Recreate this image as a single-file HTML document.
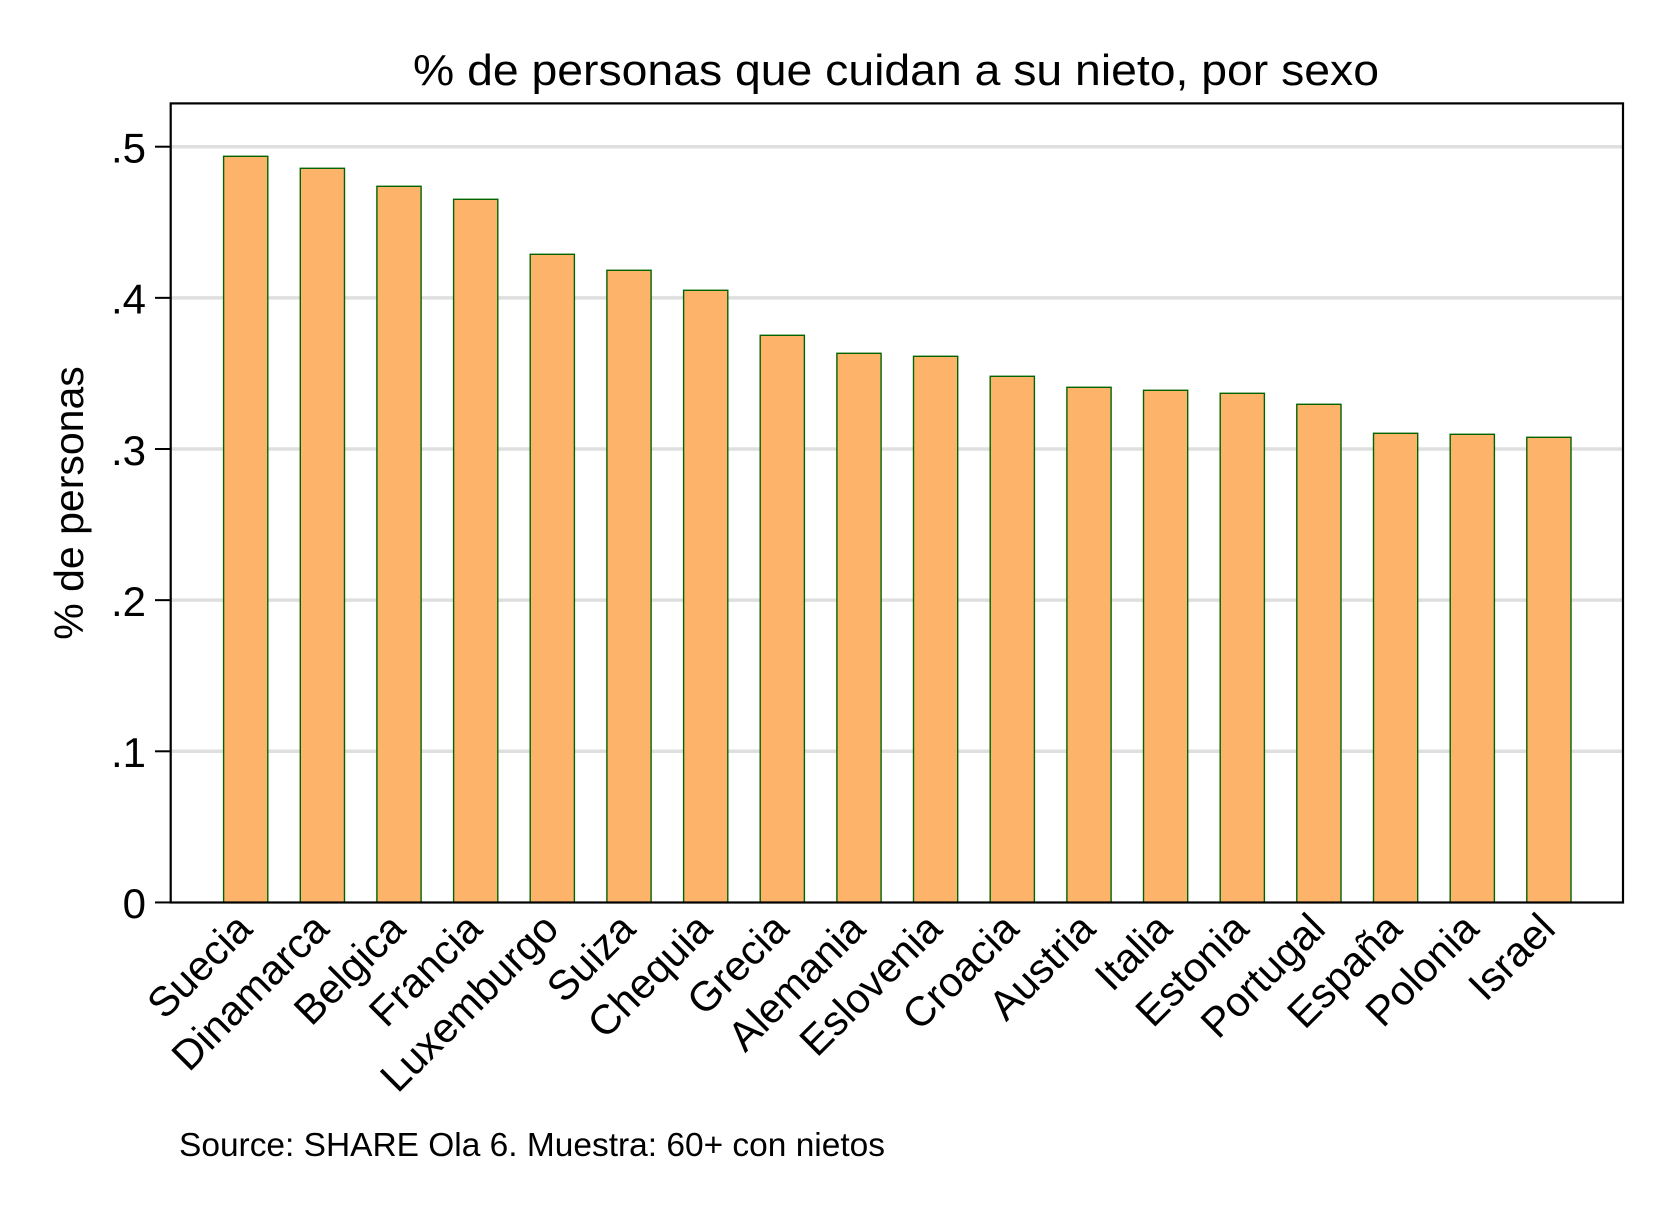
<!DOCTYPE html>
<html>
<head>
<meta charset="utf-8">
<style>
html,body{margin:0;padding:0;background:#fff;}
svg{display:block;}
text{font-family:"Liberation Sans",Arial,sans-serif;fill:#000;}
</style>
</head>
<body>
<svg width="1667" height="1213" viewBox="0 0 1667 1213" xmlns="http://www.w3.org/2000/svg">
<rect x="0" y="0" width="1667" height="1213" fill="#fff"/>

<!-- title -->
<text x="413" y="85" font-size="44" textLength="966" lengthAdjust="spacingAndGlyphs">% de personas que cuidan a su nieto, por sexo</text>

<!-- gridlines -->
<g stroke="#dfdfdf" stroke-width="3.5">
<line x1="171" y1="146.7" x2="1623" y2="146.7"/>
<line x1="171" y1="297.85" x2="1623" y2="297.85"/>
<line x1="171" y1="449" x2="1623" y2="449"/>
<line x1="171" y1="600.15" x2="1623" y2="600.15"/>
<line x1="171" y1="751.3" x2="1623" y2="751.3"/>
</g>

<!-- bars -->
<g fill="#fdb46a" stroke="#006400" stroke-width="1.4">
<rect x="223.6" y="156.3" width="44.2" height="746.2"/>
<rect x="300.3" y="168.3" width="44.2" height="734.2"/>
<rect x="376.9" y="186.3" width="44.2" height="716.2"/>
<rect x="453.6" y="199.3" width="44.2" height="703.2"/>
<rect x="530.2" y="254.3" width="44.2" height="648.2"/>
<rect x="606.9" y="270.3" width="44.2" height="632.2"/>
<rect x="683.6" y="290.3" width="44.2" height="612.2"/>
<rect x="760.2" y="335.3" width="44.2" height="567.2"/>
<rect x="836.9" y="353.3" width="44.2" height="549.2"/>
<rect x="913.5" y="356.3" width="44.2" height="546.2"/>
<rect x="990.2" y="376.3" width="44.2" height="526.2"/>
<rect x="1066.9" y="387.3" width="44.2" height="515.2"/>
<rect x="1143.5" y="390.3" width="44.2" height="512.2"/>
<rect x="1220.2" y="393.3" width="44.2" height="509.2"/>
<rect x="1296.8" y="404.3" width="44.2" height="498.2"/>
<rect x="1373.5" y="433.3" width="44.2" height="469.2"/>
<rect x="1450.2" y="434.3" width="44.2" height="468.2"/>
<rect x="1526.8" y="437.3" width="44.2" height="465.2"/>
</g>

<!-- frame -->
<rect x="170.7" y="103.4" width="1452.3" height="799.1" fill="none" stroke="#000" stroke-width="2.2"/>

<!-- y ticks -->
<g stroke="#000" stroke-width="2">
<line x1="155" y1="146.7" x2="171" y2="146.7"/>
<line x1="155" y1="297.85" x2="171" y2="297.85"/>
<line x1="155" y1="449" x2="171" y2="449"/>
<line x1="155" y1="600.15" x2="171" y2="600.15"/>
<line x1="155" y1="751.3" x2="171" y2="751.3"/>
<line x1="155" y1="902.45" x2="171" y2="902.45"/>
</g>

<!-- y tick labels -->
<g font-size="42" text-anchor="end">
<text x="146" y="162.5">.5</text>
<text x="146" y="313.6">.4</text>
<text x="146" y="464.8">.3</text>
<text x="146" y="615.9">.2</text>
<text x="146" y="767.1">.1</text>
<text x="146" y="918.2">0</text>
</g>

<!-- y axis title -->
<text transform="translate(83,503) rotate(-90)" font-size="41" text-anchor="middle">% de personas</text>

<!-- x labels -->
<g font-size="41.5" text-anchor="end">
<text transform="translate(254.2,931) rotate(-45)">Suecia</text>
<text transform="translate(330.9,931) rotate(-45)">Dinamarca</text>
<text transform="translate(407.5,931) rotate(-45)">Belgica</text>
<text transform="translate(484.2,931) rotate(-45)">Francia</text>
<text transform="translate(560.8,931) rotate(-45)">Luxemburgo</text>
<text transform="translate(637.5,931) rotate(-45)">Suiza</text>
<text transform="translate(714.2,931) rotate(-45)">Chequia</text>
<text transform="translate(790.8,931) rotate(-45)">Grecia</text>
<text transform="translate(867.5,931) rotate(-45)">Alemania</text>
<text transform="translate(944.1,931) rotate(-45)">Eslovenia</text>
<text transform="translate(1020.8,931) rotate(-45)">Croacia</text>
<text transform="translate(1097.5,931) rotate(-45)">Austria</text>
<text transform="translate(1174.1,931) rotate(-45)">Italia</text>
<text transform="translate(1250.8,931) rotate(-45)">Estonia</text>
<text transform="translate(1327.4,931) rotate(-45)">Portugal</text>
<text transform="translate(1404.1,931) rotate(-45)">España</text>
<text transform="translate(1480.8,931) rotate(-45)">Polonia</text>
<text transform="translate(1557.4,931) rotate(-45)">Israel</text>
</g>

<!-- note -->
<text x="179" y="1156" font-size="33" textLength="706" lengthAdjust="spacingAndGlyphs">Source: SHARE Ola 6. Muestra: 60+ con nietos</text>
</svg>
</body>
</html>
